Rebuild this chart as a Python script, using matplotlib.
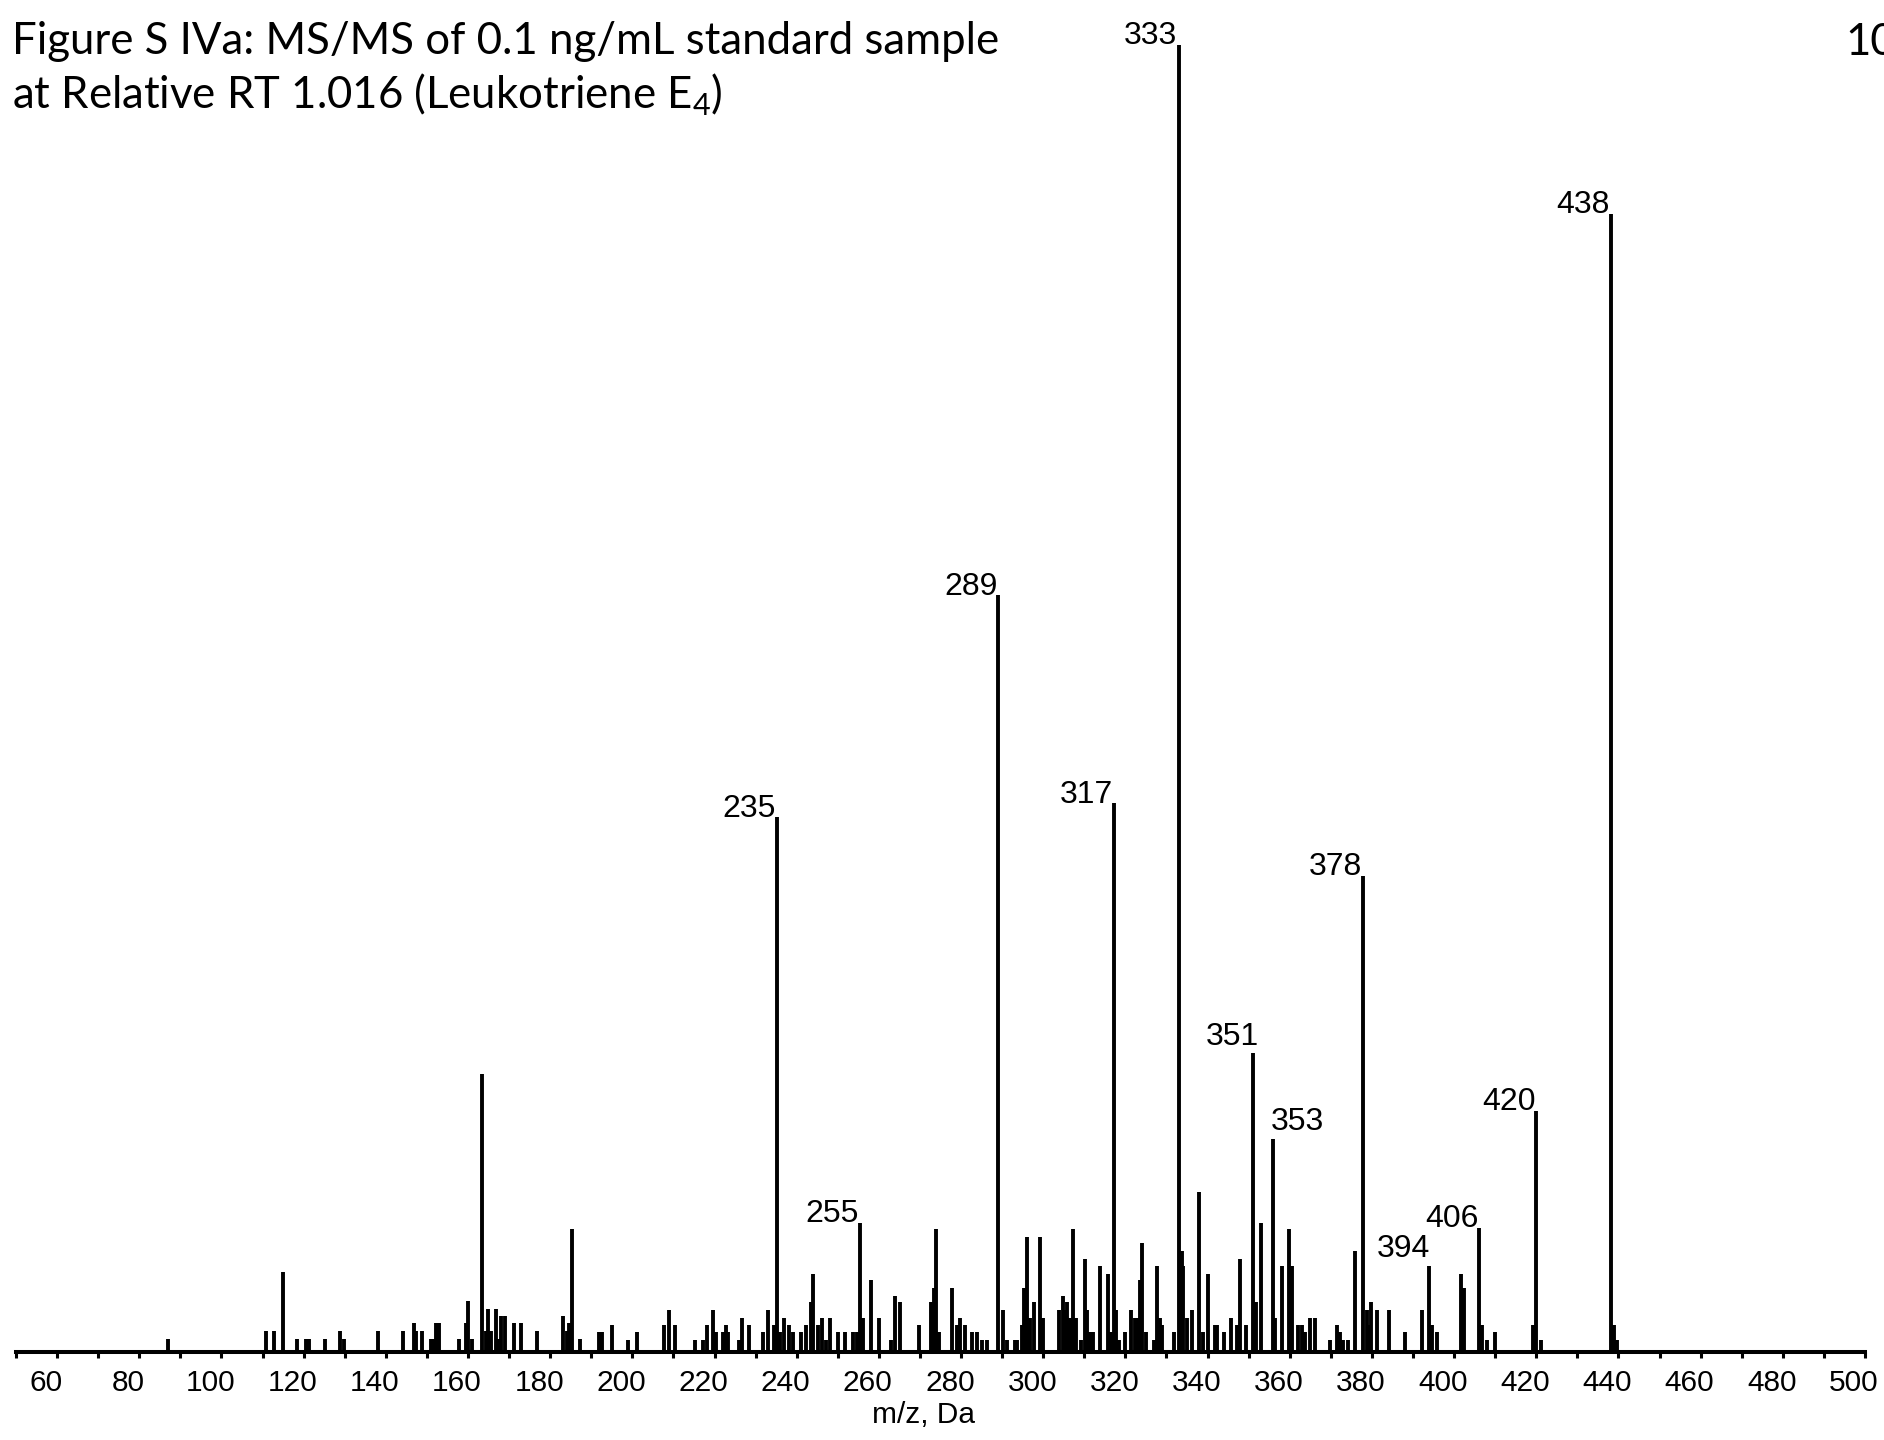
import matplotlib
matplotlib.use("Agg")
import matplotlib.pyplot as plt
import matplotlib.transforms as mtransforms
from matplotlib.ticker import MultipleLocator

# ---- data (m/z, relative intensity %) ----
mz = [87.1, 110.9, 112.8, 115.0, 118.5, 120.6, 121.4, 125.2, 128.8, 129.8,
      138.0, 144.2, 146.9, 147.4, 148.8, 150.9, 151.5, 152.3, 153.0, 157.7,
      159.4, 160.1, 160.9, 163.5, 164.3, 164.9, 165.5, 166.8, 167.6, 168.1,
      169.1, 171.2, 172.9, 176.9, 183.1, 184.1, 184.7, 185.2, 187.3,
      191.8, 192.7, 195.0, 198.9, 201.1, 207.8, 208.9, 210.4, 215.3, 217.2,
      218.1, 219.7, 220.3, 222.0, 222.8, 223.4, 225.9, 226.8, 228.3, 231.9,
      232.9, 234.5, 235.2, 236.0, 236.8, 238.2, 239.0, 241.0, 242.3, 243.4,
      244.0, 245.3, 246.2, 247.1, 248.1, 250.1, 251.8, 253.8, 254.6, 255.4,
      256.1, 258.1, 260.0, 263.0, 264.0, 265.2, 269.8, 272.8, 273.4, 274.0,
      274.7, 277.9, 278.9, 279.8, 280.9, 282.6, 284.0, 285.0, 286.2, 289.1,
      290.1, 291.1, 293.1, 293.6, 294.8, 295.4, 296.0, 296.8, 297.8, 299.1,
      300.0, 303.9, 304.8, 305.3, 305.9, 306.5, 307.2, 307.9, 309.3, 310.1,
      310.7, 311.3, 312.1, 313.8, 315.8, 316.4, 317.2, 317.8, 318.5, 319.9,
      321.3, 322.3, 323.0, 323.5, 324.1, 324.9, 326.9, 327.6, 328.4, 329.0,
      331.9, 333.1, 333.7, 334.1, 334.9, 336.1, 338.0, 338.8, 340.1, 341.7,
      342.4, 343.9, 345.8, 347.1, 348.0, 349.3, 351.0, 351.7, 353.1, 355.9,
      356.5, 358.2, 359.8, 360.5, 361.9, 362.9, 363.8, 364.9, 366.1, 369.8,
      371.6, 372.2, 373.0, 374.2, 375.9, 377.9, 378.7, 379.1, 379.8, 381.3,
      384.1, 388.0, 392.1, 394.0, 394.7, 395.9, 401.7, 402.3, 406.1, 406.9,
      408.0, 410.0, 419.1, 420.0, 421.1, 438.2, 438.9, 439.7]
intensity = [1.0, 1.6, 1.6, 6.1, 1.0, 1.0, 1.0, 1.0, 1.6, 1.0,
             1.6, 1.6, 2.2, 1.6, 1.6, 1.0, 1.0, 2.2, 2.2, 1.0,
             2.2, 3.9, 1.0, 21.3, 1.6, 3.3, 1.6, 3.3, 1.0, 2.75,
             2.75, 2.2, 2.2, 1.6, 2.75, 1.6, 2.2, 9.4, 1.0,
             1.5, 1.5, 2.1, 0.94, 1.5, 2.1, 3.2, 2.1, 0.94, 0.94,
             2.1, 3.2, 1.5, 1.5, 2.1, 1.5, 0.94, 2.6, 2.1, 1.5,
             3.2, 2.1, 40.9, 1.5, 2.6, 2.1, 1.5, 1.5, 2.1, 3.8,
             6.0, 2.1, 2.6, 0.94, 2.6, 1.5, 1.5, 1.5, 1.5, 9.9,
             2.6, 5.5, 2.6, 0.94, 4.3, 3.8, 2.1, 3.8, 4.9, 9.4,
             1.5, 4.9, 2.1, 2.6, 2.1, 1.5, 1.5, 0.94, 0.94, 57.9,
             3.2, 0.94, 0.94, 0.94, 2.1, 4.9, 8.8, 2.6, 3.8, 8.8,
             2.6, 3.2, 4.3, 3.2, 3.8, 2.6, 9.4, 2.6, 0.94, 7.1,
             3.2, 1.5, 1.5, 6.6, 6.0, 1.5, 42.0, 3.2, 0.94, 1.5,
             3.2, 2.6, 2.6, 5.5, 8.3, 1.5, 0.94, 6.6, 2.6, 2.1,
             1.5, 100.0, 7.7, 6.6, 2.6, 3.2, 12.2, 1.5, 6.0, 2.1,
             2.1, 1.5, 2.6, 2.1, 7.1, 2.1, 22.9, 3.8, 9.9, 16.3,
             2.6, 6.6, 9.4, 6.6, 2.1, 2.1, 1.5, 2.6, 2.6, 0.94,
             2.1, 1.5, 0.94, 0.94, 7.7, 36.4, 3.2, 2.1, 3.8, 3.2,
             3.2, 1.5, 3.2, 6.6, 2.1, 1.5, 6.0, 4.9, 9.5, 2.1,
             0.94, 1.5, 2.1, 18.4, 0.94, 87.0, 2.1, 0.94]

# peak annotations: position (m/z of the peak), text
label_mz = [235.2, 255.4, 289.1, 317.2, 333.1, 351.0, 355.9, 377.9, 394.0, 406.1, 420.0, 438.2]
label_text = ["235", "255", "289", "317", "333", "351", "353", "378", "394", "406", "420", "438"]
label_ha = ["right"] * 5 + ["right", "left"] + ["right"] * 5
label_dx = [-1, -1, -1, -1, -2, 6, -2, -1, 1, -1, -1, -1]     # pixels
label_dy = [-7, -6, -7, -7, -7, 1, 2, -6, 2, -6, -6, -6]      # pixels

xticks = list(range(60, 501, 20))
xlabel = "m/z, Da"
title_line1 = "Figure S IVa: MS/MS of 0.1 ng/mL standard sample"
title_line2 = r"at Relative RT 1.016 (Leukotriene E$_\mathregular{4}$)"
corner_text = "100%"

plt.rcParams["mathtext.fontset"] = "custom"
plt.rcParams["mathtext.rm"] = "Lato"
plt.rcParams["font.family"] = ["Liberation Sans", "DejaVu Sans"]

W, H = 1884, 1440
fig = plt.figure(figsize=(W / 100, H / 100), dpi=100)
ax_left, ax_right, ax_bottom, ax_top = 16, 1865, 1352, 44.5
ax = fig.add_axes([ax_left / W, (H - ax_bottom) / H,
                   (ax_right - ax_left) / W, (ax_bottom - ax_top) / H])
ax.set_xlim(50, 500)
ax.set_ylim(0, 100)

ax.vlines(mz, 0, intensity, colors="black", linewidth=2.8, clip_on=False)

for s in ["top", "right", "left"]:
    ax.spines[s].set_visible(False)
ax.spines["bottom"].set_linewidth(2.9)
ax.set_yticks([])
ax.set_xticks(xticks)
ax.xaxis.set_minor_locator(MultipleLocator(10))
ax.tick_params(axis="x", which="both", direction="out", length=4, width=2.2,
               labelsize=21.5, pad=8)
offset = mtransforms.ScaledTranslation(-0.11, 0, fig.dpi_scale_trans)
for lab in ax.get_xticklabels():
    lab.set_transform(lab.get_transform() + offset)

for m, t, ha, dx, dy in zip(label_mz, label_text, label_ha, label_dx, label_dy):
    y = intensity[mz.index(m)]
    ax.annotate(t, xy=(m, y), xytext=(dx * 0.72, dy * 0.72), textcoords="offset points",
                ha=ha, va="bottom", fontsize=23, annotation_clip=False)

fig.text(923 / W, 1 - 1415 / H, xlabel, ha="center", va="center", fontsize=21.5)

fig.text(12 / W, 1 - 54 / H, title_line1, ha="left", va="baseline",
         fontsize=31.5, family=["Lato", "DejaVu Sans"])
fig.text(12 / W, 1 - 109 / H, title_line2, ha="left", va="baseline",
         fontsize=31.5, family=["Lato", "DejaVu Sans"])
fig.text(1845 / W, 1 - 55 / H, corner_text, ha="left", va="baseline",
         fontsize=31.5, family=["Lato", "DejaVu Sans"])

fig.savefig("out.png", dpi=100)
